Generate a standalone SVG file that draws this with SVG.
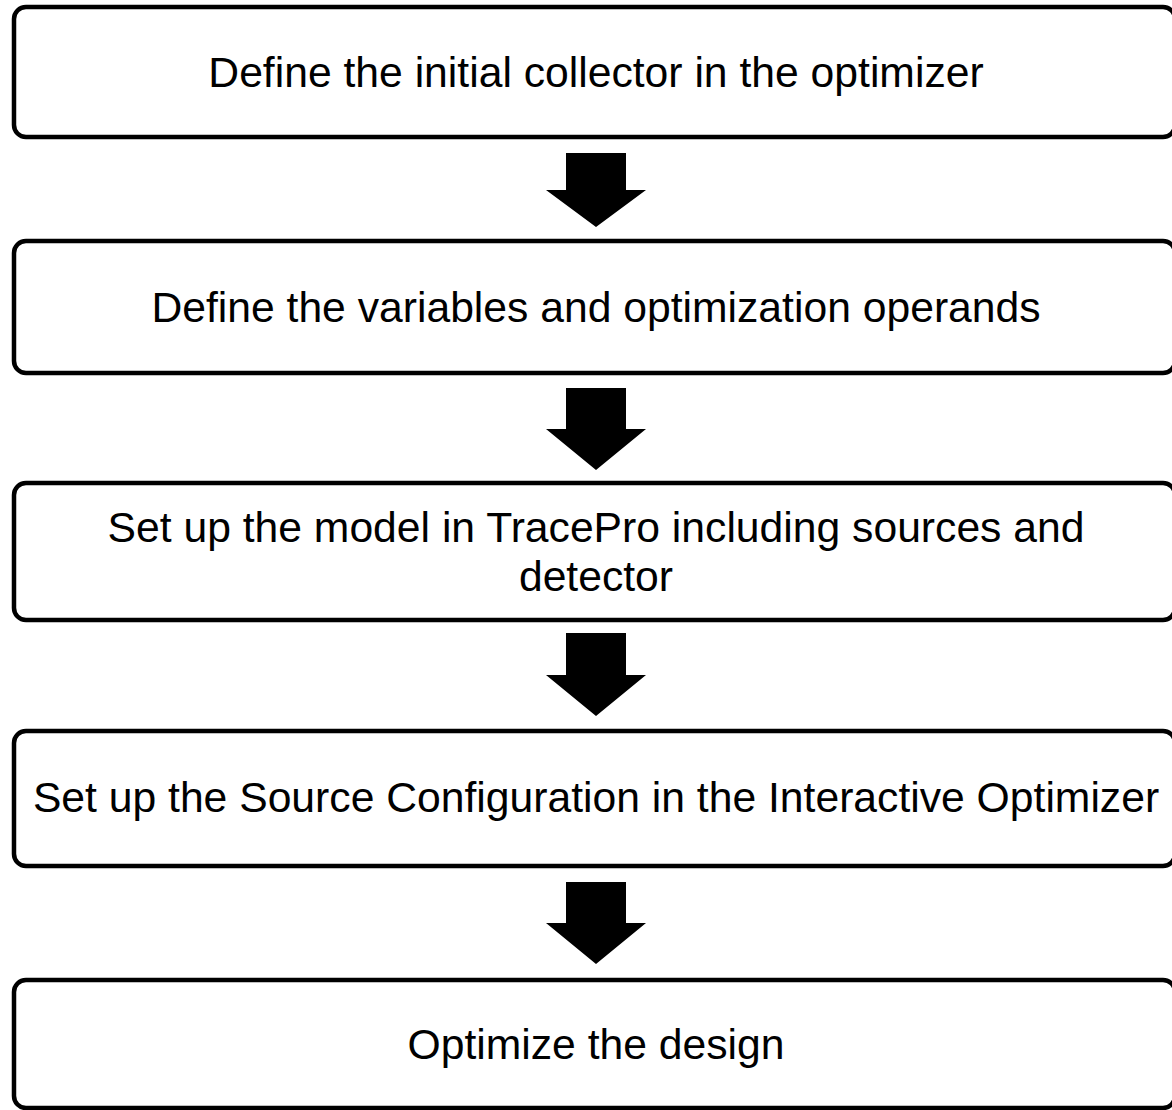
<svg xmlns="http://www.w3.org/2000/svg" width="1172" height="1110" viewBox="0 0 1172 1110">
<style>
.box{fill:#fff;stroke:#000;stroke-width:4.5}
.lbl{font-family:"Liberation Sans",Arial,sans-serif;font-size:42.67px;fill:#000;text-anchor:middle}
.arr{fill:#000;stroke:none}
</style>
<rect width="1172" height="1110" fill="#fff"/>
<g id="connectors">
<polygon class="arr" points="566,153 626,153 626,190 646,190 596,227 546,190 566,190"/>
<polygon class="arr" points="566,388 626,388 626,429 646,429 596,470 546,429 566,429"/>
<polygon class="arr" points="566,633 626,633 626,675 646,675 596,716 546,675 566,675"/>
<polygon class="arr" points="566,882 626,882 626,923 646,923 596,964 546,923 566,923"/>
</g>
<g id="node1">
<rect class="box" x="14" y="7" width="1161" height="130" rx="12"/>
<text class="lbl" x="596" y="87">Define the initial collector in the optimizer</text>
</g>
<g id="node2">
<rect class="box" x="14" y="241" width="1161" height="132" rx="12"/>
<text class="lbl" x="596" y="322">Define the variables and optimization operands</text>
</g>
<g id="node3">
<rect class="box" x="14" y="483" width="1161" height="137" rx="12"/>
<text class="lbl" x="596" y="542">Set up the model in TracePro including sources and</text>
<text class="lbl" x="596" y="591">detector</text>
</g>
<g id="node4">
<rect class="box" x="14" y="731" width="1161" height="135" rx="12"/>
<text class="lbl" x="596" y="812">Set up the Source Configuration in the Interactive Optimizer</text>
</g>
<g id="node5">
<rect class="box" x="14" y="980" width="1161" height="128" rx="12"/>
<text class="lbl" x="596" y="1059">Optimize the design</text>
</g>
</svg>
